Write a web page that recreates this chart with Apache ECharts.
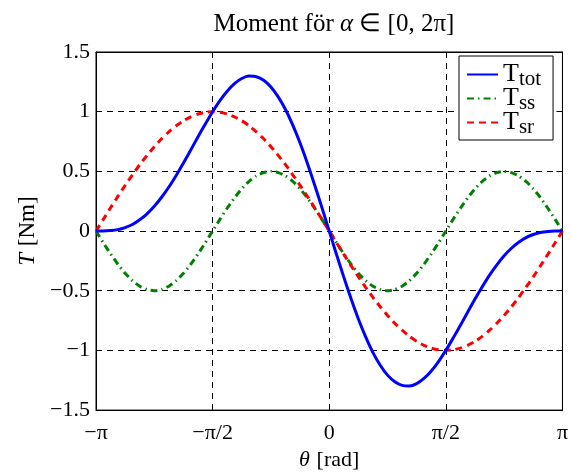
<!DOCTYPE html>
<html>
<head>
<meta charset="utf-8">
<script src="https://cdn.jsdelivr.net/npm/echarts@6/dist/echarts.min.js"></script>
<style>
  html, body { margin: 0; padding: 0; background: #fff; }
  #container { width: 571px; height: 476px; }
</style>
</head>
<body>
<div id="container"></div>
<script>
var dom = document.getElementById("container");
var myChart = echarts.init(dom);

// theta in units of pi, step pi/32
var thetaPi = [-1, -0.96875, -0.9375, -0.90625, -0.875, -0.84375, -0.8125, -0.78125,
  -0.75, -0.71875, -0.6875, -0.65625, -0.625, -0.59375, -0.5625, -0.53125,
  -0.5, -0.46875, -0.4375, -0.40625, -0.375, -0.34375, -0.3125, -0.28125,
  -0.25, -0.21875, -0.1875, -0.15625, -0.125, -0.09375, -0.0625, -0.03125,
  0, 0.03125, 0.0625, 0.09375, 0.125, 0.15625, 0.1875, 0.21875,
  0.25, 0.28125, 0.3125, 0.34375, 0.375, 0.40625, 0.4375, 0.46875,
  0.5, 0.53125, 0.5625, 0.59375, 0.625, 0.65625, 0.6875, 0.71875,
  0.75, 0.78125, 0.8125, 0.84375, 0.875, 0.90625, 0.9375, 0.96875, 1];

var tTot = [0, 0, 0.004, 0.012, 0.029, 0.055, 0.094, 0.144,
  0.207, 0.283, 0.369, 0.466, 0.57, 0.679, 0.79, 0.897,
  1.0, 1.093, 1.172, 1.235, 1.278, 1.298, 1.293, 1.263,
  1.207, 1.124, 1.018, 0.887, 0.737, 0.568, 0.386, 0.196,
  0, -0.196, -0.386, -0.568, -0.737, -0.887, -1.018, -1.124,
  -1.207, -1.263, -1.293, -1.298, -1.278, -1.235, -1.172, -1.093,
  -1.0, -0.897, -0.79, -0.679, -0.57, -0.466, -0.369, -0.283,
  -0.207, -0.144, -0.094, -0.055, -0.029, -0.012, -0.004, 0, 0];

var tSs = [0, -0.098, -0.191, -0.278, -0.354, -0.416, -0.462, -0.49,
  -0.5, -0.49, -0.462, -0.416, -0.354, -0.278, -0.191, -0.098,
  0, 0.098, 0.191, 0.278, 0.354, 0.416, 0.462, 0.49,
  0.5, 0.49, 0.462, 0.416, 0.354, 0.278, 0.191, 0.098,
  0, -0.098, -0.191, -0.278, -0.354, -0.416, -0.462, -0.49,
  -0.5, -0.49, -0.462, -0.416, -0.354, -0.278, -0.191, -0.098,
  0, 0.098, 0.191, 0.278, 0.354, 0.416, 0.462, 0.49,
  0.5, 0.49, 0.462, 0.416, 0.354, 0.278, 0.191, 0.098, 0];

var tSr = [0, 0.098, 0.195, 0.29, 0.383, 0.471, 0.556, 0.634,
  0.707, 0.773, 0.831, 0.882, 0.924, 0.957, 0.981, 0.995,
  1.0, 0.995, 0.981, 0.957, 0.924, 0.882, 0.831, 0.773,
  0.707, 0.634, 0.556, 0.471, 0.383, 0.29, 0.195, 0.098,
  0, -0.098, -0.195, -0.29, -0.383, -0.471, -0.556, -0.634,
  -0.707, -0.773, -0.831, -0.882, -0.924, -0.957, -0.981, -0.995,
  -1.0, -0.995, -0.981, -0.957, -0.924, -0.882, -0.831, -0.773,
  -0.707, -0.634, -0.556, -0.471, -0.383, -0.29, -0.195, -0.098, 0];

var xTickLabels = {'-1': '\u2212\u03c0', '-0.5': '\u2212\u03c0/2', '0': '0', '0.5': '\u03c0/2', '1': '\u03c0'};

var seriesNames = ['tot', 'ss', 'sr'];

function pairs(ys) {
  var out = [];
  for (var i = 0; i < thetaPi.length; i++) {
    out.push([thetaPi[i], ys[i]]);
  }
  return out;
}

var font = 'Liberation Serif';
var gridLine = { show: true, lineStyle: { color: '#000', type: [6, 5], width: 1 } };

var option = {
  animation: false,
  backgroundColor: '#fff',
  title: {
    text: '{n|Moment för }{i|α}{n| ∈ [0, 2π]}',
    left: 329,
    textAlign: 'center',
    top: 7,
    textStyle: {
      fontWeight: 'normal',
      rich: {
        n: { fontFamily: font, fontSize: 25, fontWeight: 'normal', color: '#000' },
        i: { fontFamily: font, fontSize: 25, fontWeight: 'normal', fontStyle: 'italic', color: '#000' }
      }
    }
  },
  grid: { left: 96, right: 6, top: 52, bottom: 59, show: true, borderColor: '#000', borderWidth: 1 },
  legend: {
    orient: 'vertical',
    left: 459,
    top: 56,
    padding: [3, 12, 2, 7],
    itemGap: -7,
    itemWidth: 31,
    itemHeight: 20,
    backgroundColor: '#fff',
    borderColor: '#000',
    borderWidth: 1,
    borderRadius: 0,
    itemStyle: { opacity: 0 },
    formatter: function (name) {
      return '{a|T}{b|' + name + '}';
    },
    textStyle: {
      fontSize: 20,
      lineHeight: 22,
      rich: {
        a: { fontFamily: font, fontSize: 26, color: '#000', lineHeight: 22 },
        b: { fontFamily: font, fontSize: 21, color: '#000', lineHeight: 12, padding: [10, 0, 0, 0] }
      }
    }
  },
  xAxis: [{
    type: 'value',
    min: -1,
    max: 1,
    interval: 0.5,
    name: '{i|θ}  {n|[rad]}',
    nameLocation: 'middle',
    nameGap: 38,
    nameTextStyle: {
      rich: {
        i: { fontFamily: font, fontSize: 22, fontStyle: 'italic', color: '#000' },
        n: { fontFamily: font, fontSize: 22, color: '#000' }
      }
    },
    axisLine: { show: true, onZero: false, lineStyle: { color: '#000' } },
    axisTick: { show: true, inside: true, length: 6, lineStyle: { color: '#000' } },
    axisLabel: {
      fontFamily: font, fontSize: 22, color: '#000', margin: 12,
      formatter: function (v) { return xTickLabels[String(v)]; }
    },
    splitLine: gridLine
  }, {
    type: 'value',
    position: 'top',
    min: -1,
    max: 1,
    interval: 0.5,
    axisLine: { show: true, onZero: false, lineStyle: { color: '#000' } },
    axisTick: { show: true, inside: true, length: 6, lineStyle: { color: '#000' } },
    axisLabel: { show: false },
    splitLine: { show: false }
  }],
  yAxis: [{
    type: 'value',
    min: -1.5,
    max: 1.5,
    interval: 0.5,
    name: '{i|T}  {n|[Nm]}',
    nameLocation: 'middle',
    nameGap: 57,
    nameRotate: 90,
    nameTextStyle: {
      rich: {
        i: { fontFamily: font, fontSize: 23, fontStyle: 'italic', color: '#000' },
        n: { fontFamily: font, fontSize: 23, color: '#000' }
      }
    },
    axisLine: { show: true, onZero: false, lineStyle: { color: '#000' } },
    axisTick: { show: true, inside: true, length: 6, lineStyle: { color: '#000' } },
    axisLabel: {
      fontFamily: font, fontSize: 22, color: '#000', margin: 6,
      formatter: function (v) { return String(v).replace('-', '\u2212'); }
    },
    splitLine: gridLine
  }, {
    type: 'value',
    position: 'right',
    min: -1.5,
    max: 1.5,
    interval: 0.5,
    axisLine: { show: true, onZero: false, lineStyle: { color: '#000' } },
    axisTick: { show: true, inside: true, length: 6, lineStyle: { color: '#000' } },
    axisLabel: { show: false },
    splitLine: { show: false }
  }],
  series: [{
    name: seriesNames[0],
    type: 'line',
    data: pairs(tTot),
    smooth: 0.2,
    symbol: 'none',
    color: '#0000ff',
    lineStyle: { color: '#0000ff', width: 3, type: 'solid' },
    z: 4
  }, {
    name: seriesNames[1],
    type: 'line',
    data: pairs(tSs),
    smooth: 0.2,
    symbol: 'none',
    color: '#008000',
    lineStyle: { color: '#008000', width: 3, type: [7, 4, 1.5, 4] },
    z: 3
  }, {
    name: seriesNames[2],
    type: 'line',
    data: pairs(tSr),
    smooth: 0.2,
    symbol: 'none',
    color: '#ff0000',
    lineStyle: { color: '#ff0000', width: 3, type: [7, 5] },
    z: 3
  }]
};

myChart.setOption(option);
</script>
</body>
</html>
